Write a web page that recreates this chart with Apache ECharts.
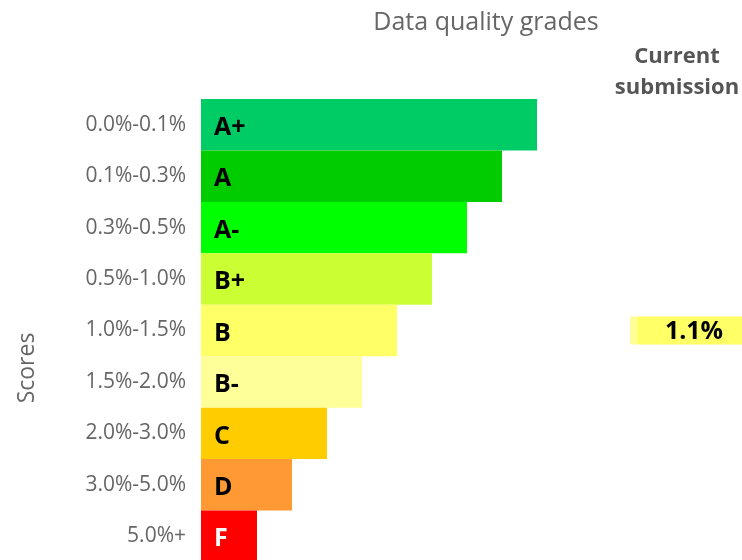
<!DOCTYPE html>
<html>
<head>
<meta charset="utf-8">
<script src="https://cdn.jsdelivr.net/npm/echarts@6/dist/echarts.min.js"></script>
<style>html,body{margin:0;padding:0;background:#fff}#c{width:742px;height:560px}</style>
</head>
<body>
<div id="c"></div>
<script>
var ranges = ['0.0%-0.1%','0.1%-0.3%','0.3%-0.5%','0.5%-1.0%','1.0%-1.5%','1.5%-2.0%','2.0%-3.0%','3.0%-5.0%','5.0%+'];
var grades = ['A+','A','A-','B+','B','B-','C','D','F'];
var gradeBarValues = [9.6,8.6,7.6,6.6,5.6,4.6,3.6,2.6,1.6];
var gradeColors = ['#00cc66','#00cc00','#00ff00','#ccff33','#ffff66','#ffff99','#ffcc00','#ff9933','#ff0000'];
var labelColors = ['#000','#000','#000','#000','#000','#000','#000','#000','#fff'];
var currentGrade = 'B';
var currentValue = 1.1;

var FONT = '"Open Sans", "Noto Sans", sans-serif';
var chart = echarts.init(document.getElementById('c'));

var mainData = gradeBarValues.map(function(v, i){
  return {value: v, itemStyle: {color: gradeColors[i]},
          label: {color: labelColors[i]}};
});
var curData = ranges.map(function(r, i){
  return grades[i] === currentGrade ? currentValue : '-';
});

chart.setOption({
  animation: false,
  title: [{
    text: 'Data quality grades', left: 481, top: 5, textAlign: 'center',
    textStyle: {fontFamily: FONT, fontSize: 25, fontWeight: 'normal', color: '#666'}
  },{
    text: 'Current\nsubmission', left: 672, top: 36, textAlign: 'center',
    textStyle: {fontFamily: FONT, fontSize: 22, fontWeight: 'bold', color: '#555', lineHeight: 31}
  }],
  graphic: [{
    type: 'text', x: 27, y: 368, rotation: Math.PI/2,
    style: {text: 'Scores', font: '23px ' + FONT, fill: '#666', textAlign: 'center', textVerticalAlign: 'middle'}
  }],
  grid: [
    {left: 201, width: 350, top: 99, height: 463, outerBoundsMode: 'none', containLabel: false},
    {left: 630, right: 0, top: 99, height: 463, outerBoundsMode: 'none', containLabel: false}
  ],
  xAxis: [
    {gridIndex: 0, type: 'value', min: 0, max: 10, show: false},
    {gridIndex: 1, type: 'value', min: 0, max: currentValue, show: false}
  ],
  yAxis: [
    {gridIndex: 0, type: 'category', data: ranges, inverse: true,
     axisLine: {show: false}, axisTick: {show: false}, splitLine: {show: false},
     axisLabel: {margin: 15, fontFamily: FONT, fontSize: 21, color: '#666', padding: [7,0,0,0]}},
    {gridIndex: 1, type: 'category', data: ranges, inverse: true, show: false}
  ],
  series: [{
    type: 'bar', xAxisIndex: 0, yAxisIndex: 0, data: mainData,
    barCategoryGap: 0,
    label: {show: true, position: 'insideLeft', distance: 13, offset: [0, 3],
      formatter: function(p){ return grades[p.dataIndex]; },
      fontFamily: FONT, fontSize: 25, fontWeight: 'bold'}
  },{
    type: 'bar', xAxisIndex: 1, yAxisIndex: 1, data: curData, barWidth: 28,
    itemStyle: {color: new echarts.graphic.LinearGradient(0,0,1,0,[
      {offset: 0, color: '#ffff99'}, {offset: 0.06, color: '#ffff99'},
      {offset: 0.061, color: '#ffff66'}, {offset: 1, color: '#ffff66'}])},
    label: {show: true, position: 'inside', offset: [8, 1],
      formatter: function(p){ return p.value + '%'; },
      color: '#000', fontFamily: FONT, fontSize: 25, fontWeight: 'bold'}
  }]
});
</script>
</body>
</html>
